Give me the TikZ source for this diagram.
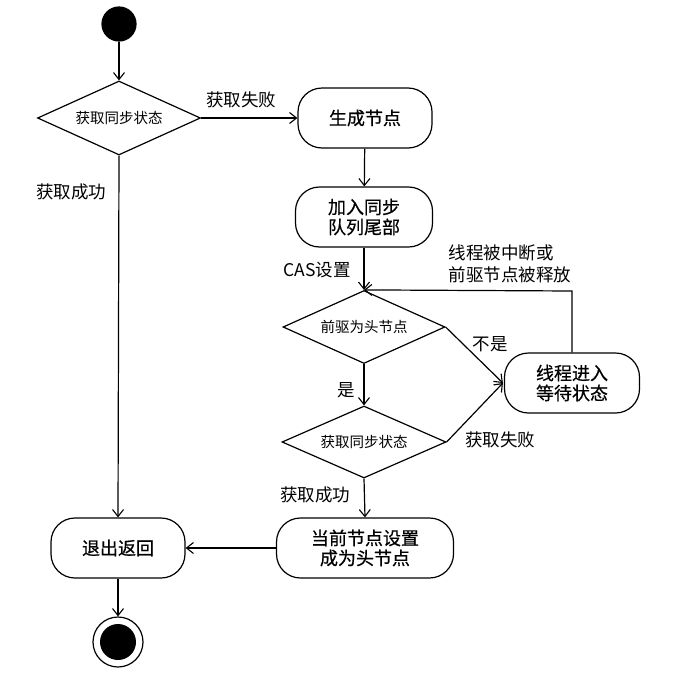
\documentclass[tikz,border=0pt]{standalone}
\usepackage{fontspec}
\setmainfont{Noto Sans CJK SC}
\newfontfamily\boxfont[FakeBold=0.6]{Noto Sans CJK SC}
\usetikzlibrary{arrows.meta,shapes.geometric,shapes.misc}
\begin{document}
\begin{tikzpicture}[x=1pt,y=-1pt,
  every path/.style={line width=1.2pt},
  arr/.style={-{Straight Barb[length=7pt,width=11pt,line width=1.1pt]}},
  actbox/.style={draw, rectangle, rounded corners=24pt, inner sep=0pt, font=\boxfont\fontsize{18}{20}\selectfont, align=center},
  dec/.style={draw, diamond, aspect=2.2, inner sep=0pt, font=\fontsize{14.5}{16}\selectfont},
  lbl/.style={font=\fontsize{17.5}{22}\selectfont, inner sep=1pt}]
\useasboundingbox (0,0) rectangle (680,672);
\node[draw, circle, fill=black, minimum size=34pt, inner sep=0pt] (start) at (119,24) {};
\node[dec, minimum width=163pt, minimum height=74pt] (d1) at (119,118) {获取同步状态};
\node[actbox, minimum width=134pt, minimum height=60pt] (gen) at (365,118) {生成节点};
\node[actbox, minimum width=137pt, minimum height=60pt] (add) at (364,217) {加入同步\\队列尾部};
\node[dec, minimum width=162pt, minimum height=73pt] (d2) at (364,327) {前驱为头节点};
\node[dec, minimum width=164pt, minimum height=72pt] (d3) at (364,442) {获取同步状态};
\node[actbox, minimum width=135pt, minimum height=60pt] (wait) at (572,383) {线程进入\\等待状态};
\node[actbox, minimum width=177pt, minimum height=60pt] (head) at (365,548) {当前节点设置\\成为头节点};
\node[actbox, minimum width=134pt, minimum height=60pt] (exit) at (118,548) {退出返回};
\node[draw, circle, minimum size=50pt, inner sep=0pt] (endo) at (118,642) {};
\node[circle, fill=black, minimum size=36pt, inner sep=0pt] (endi) at (118,642) {};
\coordinate (c1) at (572,291);

\draw[arr] (start) -- (d1.north);
\draw[arr] (d1.east) -- (gen.west);
\draw[arr] (gen) -- (add);
\draw[arr] (add) -- (d2.north);
\draw[arr] (d2.east) -- ([xshift=-1pt]wait.west);
\draw[arr] (d3.east) -- ([xshift=-1pt]wait.west);
\draw[arr] (d2.south) -- (d3.north);
\draw[arr] (d3.south) -- (head.north);
\draw[arr] (head.west) -- (exit.east);
\draw[arr] (d1.south) -- (exit.north);
\draw[arr] (exit.south) -- (endo.north);
\draw[arr] (wait.north -| c1) -- (c1) -- (d2.north);

\node[lbl] (l1) at (241,100) {获取失败};
\node[lbl] (l2) at (71,192) {获取成功};
\node[lbl] (l3) at (317,270) {CAS设置};
\node[lbl, align=left] (l4) at (510,264) {线程被中断或\\前驱节点被释放};
\node[lbl] (l5) at (490,344) {不是};
\node[lbl] (l6) at (346,390) {是};
\node[lbl] (l7) at (500,440) {获取失败};
\node[lbl] (l8) at (315,495) {获取成功};
\end{tikzpicture}
\end{document}
